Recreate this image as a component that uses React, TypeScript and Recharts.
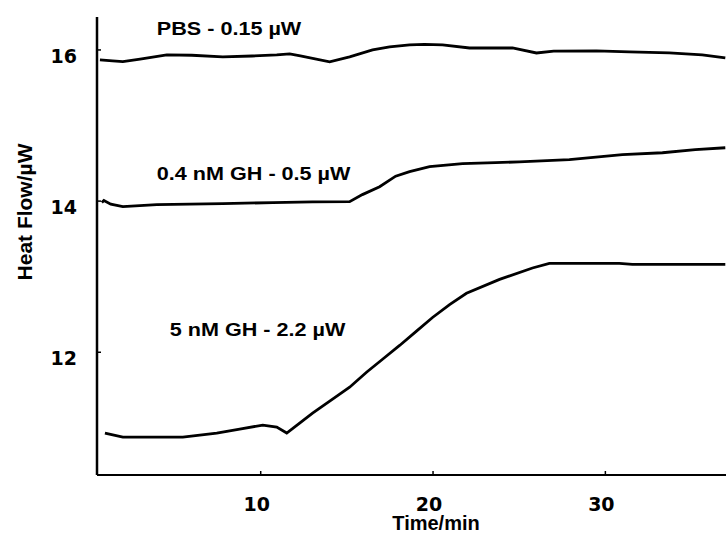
import React from "react";
import { LineChart, Line, XAxis, YAxis, ReferenceDot } from "recharts";

// time (min) and heat flow (µW)
const pbsTime = [0.67, 1.4, 2.0, 3.0, 4.55, 6.0, 7.8, 9.5, 10.93, 11.68, 12.3, 14.0, 15.16, 16.49, 17.48, 18.64, 19.5, 20.55, 22.12, 24.61, 26.0, 27.0, 29.48, 31.39, 33.71, 35.62, 36.96];
const pbsFlow = [15.868, 15.855, 15.846, 15.88, 15.934, 15.93, 15.908, 15.92, 15.934, 15.947, 15.92, 15.842, 15.908, 16.0, 16.04, 16.066, 16.075, 16.066, 16.026, 16.026, 15.96, 15.985, 15.987, 15.974, 15.96, 15.934, 15.894];

const gh04Time = [0.78, 0.9, 1.3, 2.0, 3.97, 7.8, 10.7, 13.0, 15.16, 15.9, 16.9, 17.83, 18.64, 19.8, 21.71, 23.62, 25.0, 27.91, 30.99, 33.31, 35.22, 36.96];
const gh04Flow = [13.98, 14.007, 13.96, 13.927, 13.954, 13.967, 13.98, 13.99, 13.993, 14.086, 14.19, 14.33, 14.39, 14.455, 14.495, 14.508, 14.52, 14.548, 14.614, 14.64, 14.68, 14.706];

const gh5Time = [0.96, 2.0, 3.57, 5.48, 7.45, 8.78, 10.12, 10.93, 11.51, 12.26, 13.01, 14.17, 15.16, 16.14, 17.07, 18.06, 19.04, 19.97, 20.96, 21.94, 23.86, 25.77, 26.75, 30.81, 31.57, 36.96];
const gh5Flow = [10.931, 10.878, 10.878, 10.878, 10.931, 10.983, 11.036, 11.01, 10.931, 11.063, 11.195, 11.38, 11.538, 11.736, 11.908, 12.09, 12.28, 12.46, 12.63, 12.78, 12.964, 13.115, 13.175, 13.175, 13.162, 13.162];

const xTicks = [10, 20, 30];
const yTicks = [12, 14, 16];

const noteText = ["PBS - 0.15 µW", "0.4 nM GH - 0.5 µW", "5 nM GH - 2.2 µW"];
const noteTime = [3.97, 3.97, 4.72];
const noteFlow = [16.198, 14.284, 12.211];

const toRows = (t: number[], v: number[]) => t.map((x, i) => ({ t: x, v: v[i] }));

const series = [
  { key: "pbs", data: toRows(pbsTime, pbsFlow) },
  { key: "gh04", data: toRows(gh04Time, gh04Flow) },
  { key: "gh5", data: toRows(gh5Time, gh5Flow) },
];

const tickFont = "'DejaVu Sans', sans-serif";
const labelFont = "'Liberation Sans', Arial, sans-serif";

const XTick = (props: any) => (
  <text x={props.x - 4} y={props.y} textAnchor="middle" fontFamily={tickFont} fontWeight="bold" fontSize={19} fill="#000">
    {props.payload.value}
  </text>
);

const YTick = (props: any) => (
  <text x={props.x} y={props.y + 13} textAnchor="end" fontFamily={tickFont} fontWeight="bold" fontSize={19} fill="#000">
    {props.payload.value}
  </text>
);

const Note = (text: string) => (p: any) => (
  <text
    transform={`translate(${p.cx},${p.cy}) scale(1.2,1)`}
    fontFamily={labelFont}
    fontWeight="bold"
    fontSize={18}
    fill="#000"
  >
    {text}
  </text>
);

export default function App() {
  return (
    <div style={{ position: "absolute", left: 0, top: 0, background: "#fff" }}>
      <LineChart width={726} height={534} margin={{ top: 17, right: 0, left: 0, bottom: 0 }}>
        <XAxis
          type="number"
          dataKey="t"
          domain={[0.5, 37]}
          ticks={xTicks}
          allowDataOverflow
          height={59}
          tickSize={-4}
          tickMargin={40}
          tick={XTick}
          axisLine={{ stroke: "#000", strokeWidth: 2 }}
          tickLine={{ stroke: "#000", strokeWidth: 1.5 }}
          label={{
            content: () => (
              <text x={436} y={530} textAnchor="middle" fontFamily={labelFont} fontWeight="bold" fontSize={20} fill="#000">
                Time/min
              </text>
            ),
          }}
        />
        <YAxis
          type="number"
          dataKey="v"
          domain={[10.376, 16.436]}
          ticks={yTicks}
          allowDataOverflow
          width={97}
          tickSize={-4}
          tickMargin={24}
          tick={YTick}
          axisLine={{ stroke: "#000", strokeWidth: 2.5 }}
          tickLine={{ stroke: "#000", strokeWidth: 1.5 }}
          label={{
            content: () => (
              <text
                transform="translate(32,212) rotate(-90)"
                textAnchor="middle"
                fontFamily={labelFont}
                fontWeight="bold"
                fontSize={21}
                fill="#000"
              >
                Heat Flow/µW
              </text>
            ),
          }}
        />
        {series.map((s) => (
          <Line
            key={s.key}
            data={s.data}
            dataKey="v"
            type="linear"
            stroke="#000"
            strokeWidth={2.8}
            dot={false}
            activeDot={false}
            isAnimationActive={false}
          />
        ))}
        {noteText.map((n, i) => (
          <ReferenceDot key={n} x={noteTime[i]} y={noteFlow[i]} r={0} ifOverflow="visible" shape={Note(n)} />
        ))}
      </LineChart>
    </div>
  );
}
